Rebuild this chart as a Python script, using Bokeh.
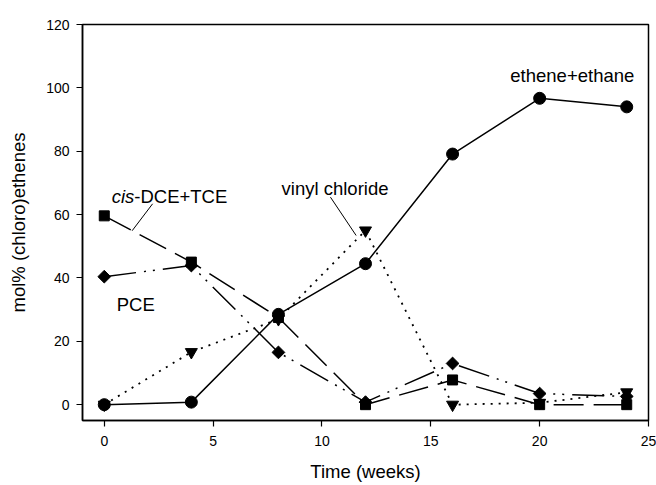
from bokeh.plotting import figure
from bokeh.models import Range1d, FixedTicker, Label
from bokeh.embed import file_html
from bokeh.resources import INLINE
import math

# ---- data ----
time_weeks = [0, 4, 8, 12, 16, 20, 24]
ethene_ethane = [0, 0.8, 28.5, 44.5, 79.1, 96.7, 94.0]
cis_dce_tce = [59.6, 45.0, 27.5, 0.0, 7.8, 0.0, 0.0]
pce = [40.4, 43.9, 16.5, 0.8, 13.0, 3.5, 2.6]
vinyl_chloride = [0.0, 16.6, 27.0, 55.0, 0.0, 0.6, 3.9]

x_ticks = [0, 5, 10, 15, 20, 25]
y_ticks = [0, 20, 40, 60, 80, 100, 120]

x_title = "Time (weeks)"
y_title = "mol% (chloro)ethenes"

FONT = "Liberation Sans"

p = figure(width=656, height=485,
           x_range=Range1d(-1, 25), y_range=Range1d(-5, 120),
           output_backend="svg", toolbar_location=None,
           min_border_left=82, min_border_right=8,
           min_border_top=24, min_border_bottom=65)

p.background_fill_color = "white"
p.border_fill_color = "white"
p.outline_line_color = "black"
p.outline_line_width = 1.5
p.xgrid.visible = False
p.ygrid.visible = False

for ax in (p.xaxis[0], p.yaxis[0]):
    ax.axis_line_color = "black"
    ax.axis_line_width = 1.5
    ax.major_tick_line_color = "black"
    ax.major_tick_line_width = 1.2
    ax.major_tick_out = 6
    ax.major_tick_in = 0
    ax.minor_tick_line_color = None
    ax.major_label_text_font = FONT
    ax.major_label_text_font_size = "14px"
    ax.major_label_text_color = "black"
    ax.axis_label_text_font = FONT
    ax.axis_label_text_font_size = "18.5px"
    ax.axis_label_text_font_style = "normal"
    ax.axis_label_text_color = "black"

p.xaxis.ticker = FixedTicker(ticks=x_ticks)
p.yaxis.ticker = FixedTicker(ticks=y_ticks)
p.xaxis.axis_label = x_title
p.yaxis.axis_label = y_title
p.xaxis.major_label_standoff = 9
p.yaxis.major_label_standoff = 7
p.xaxis.axis_label_standoff = 12
p.yaxis.axis_label_standoff = 14

# ---- series ----
# vinyl chloride: dotted, inverted triangles
p.line(time_weeks, vinyl_chloride, line_color="black", line_width=1.8, line_dash="2 6")
p.scatter(time_weeks, vinyl_chloride, marker="inverted_triangle", size=12,
          fill_color="black", line_color="black")

# PCE: dash-dot-dot, diamonds
p.line(time_weeks, pce, line_color="black", line_width=1.5, line_dash="32 8 2 7 2 8")
p.scatter(time_weeks, pce, marker="square", angle=math.pi / 4, size=9,
          fill_color="black", line_color="black")

# cis-DCE+TCE: long dash, squares
p.line(time_weeks, cis_dce_tce, line_color="black", line_width=1.5, line_dash="30 10")
p.scatter(time_weeks, cis_dce_tce, marker="square", size=10,
          fill_color="black", line_color="black")

# ethene+ethane: solid, circles
p.line(time_weeks, ethene_ethane, line_color="black", line_width=1.5)
p.scatter(time_weeks, ethene_ethane, marker="circle", size=12,
          fill_color="black", line_color="black")

# ---- annotations ----
leader_x0 = [2.22, 10.39]
leader_y0 = [63.4, 65.5]
leader_x1 = [1.28, 11.57]
leader_y1 = [54.9, 53.4]
p.segment(leader_x0, leader_y0, leader_x1, leader_y1, line_color="black", line_width=1)

def add_label(txt, x, y, align="left", style="normal", x_off=0):
    p.add_layout(Label(x=x, y=y, text=txt, x_offset=x_off,
                       text_font=FONT, text_font_size="18.5px",
                       text_font_style=style, text_color="black",
                       text_align=align, text_baseline="alphabetic"))

add_label("ethene+ethane", 21.5, 103.9, align="center")
add_label("vinyl chloride", 10.6, 68.2, align="center")
add_label("cis", 0.34, 65.7, style="italic")
add_label("-DCE+TCE", 0.34, 65.7, x_off=22.6)
add_label("PCE", 0.57, 31.6)

open("out.html", "w").write(file_html(p, INLINE))
